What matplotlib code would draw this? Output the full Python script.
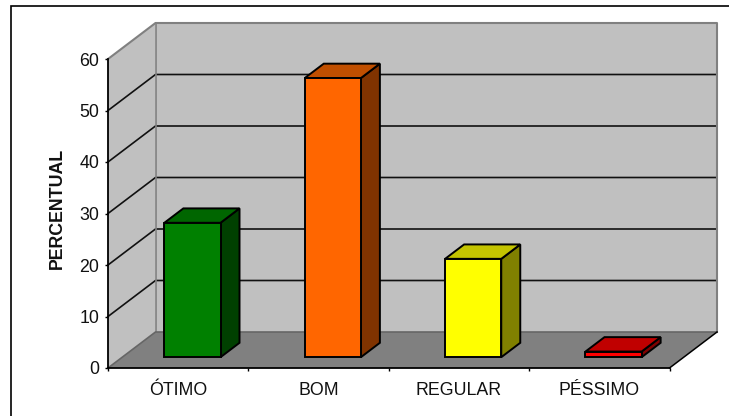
import matplotlib
matplotlib.use("Agg")
import matplotlib.pyplot as plt
from matplotlib.lines import Line2D
from matplotlib.patches import Polygon

categories = ["ÓTIMO", "BOM", "REGULAR", "PÉSSIMO"]
values = [26.1, 54.2, 19.1, 1.1]
front_colors = ["#008000", "#FF6600", "#FFFF00", "#FF0000"]
top_colors = ["#006600", "#C04F00", "#C4C400", "#C00000"]
side_colors = ["#004000", "#803300", "#808000", "#800000"]
y_ticks = [0, 10, 20, 30, 40, 50, 60]
y_label = "PERCENTUAL"

plt.rcParams["font.family"] = ["Liberation Sans", "DejaVu Sans"]
W, H = 729, 416
fig = plt.figure(figsize=(W / 100, H / 100), dpi=100, facecolor="white")
# the outer frame is cropped: only its top and left edges are in the picture
fig.add_artist(Line2D([11.5 / W, 11.5 / W, 1], [0, 1 - 5.5 / H, 1 - 5.5 / H],
                      transform=fig.transFigure, color="black", lw=1.2,
                      solid_joinstyle="miter"))

L, R, T, B = 108.0, 669.5, 59.0, 368.0
ax = fig.add_axes([L / W, 1 - B / H, (R - L) / W, (B - T) / H])
ax.set_xlim(0, len(categories))
ax.set_ylim(0, 60)
ax.patch.set_visible(False)

# depth of the 3D box in data units
DX, DY = 47.5 / ((R - L) / 4), 36.0 / ((B - T) / 60)
n = len(categories)
ymax = y_ticks[-1]

def poly(pts, fc, ec="none", lw=0, z=1):
    ax.add_patch(Polygon(pts, closed=True, fc=fc, ec=ec, lw=lw, zorder=z,
                         clip_on=False, joinstyle="miter"))

poly([(DX, DY), (n + DX, DY), (n + DX, ymax + DY), (DX, ymax + DY)], "#C0C0C0")
poly([(0, 0), (DX, DY), (DX, ymax + DY), (0, ymax)], "#C0C0C0")
poly([(0, 0), (n, 0), (n + DX, DY), (DX, DY)], "#808080")

for v in y_ticks[1:-1]:
    ax.plot([0, DX, n + DX], [v, v + DY, v + DY], color="#111111", lw=1.2,
            clip_on=False, zorder=2, solid_joinstyle="miter")
ax.plot([0, DX, n + DX, n + DX], [ymax, ymax + DY, ymax + DY, DY], color="#808080",
        lw=1.5, clip_on=False, zorder=2)
ax.plot([DX, DX], [DY, ymax + DY], color="#808080", lw=1.2, clip_on=False, zorder=2)
ax.plot([0, DX, n + DX], [0, DY, DY], color="#666666", lw=1.2, clip_on=False, zorder=2)
ax.plot([n, n + DX], [0, DY], color="black", lw=1.1, clip_on=False, zorder=2)

# bars: front face sits 0.3 of the way into the depth and takes 0.4 of it
bar_w = 0.4
for i, v in enumerate(values):
    x0 = i + 0.5 - bar_w / 2 + 0.3 * DX
    x1 = x0 + bar_w
    y0 = 0.3 * DY
    y1 = y0 + v
    ddx, ddy = 0.4 * DX, 0.4 * DY
    kw = dict(ec="black", lw=1.4, z=3 + i)
    poly([(x1, y0), (x1 + ddx, y0 + ddy), (x1 + ddx, y1 + ddy), (x1, y1)], side_colors[i], **kw)
    poly([(x0, y1), (x1, y1), (x1 + ddx, y1 + ddy), (x0 + ddx, y1 + ddy)], top_colors[i], **kw)
    poly([(x0, y0), (x1, y0), (x1, y1), (x0, y1)], front_colors[i], **kw)

for s in ["top", "right"]:
    ax.spines[s].set_visible(False)
for s in ["left", "bottom"]:
    ax.spines[s].set_linewidth(1.3)
    ax.spines[s].set_zorder(2.5)

ax.set_yticks(y_ticks)
ax.set_xticks(range(n + 1))
ax.set_xticklabels([""] * (n + 1))
ax.set_xticks([i + 0.5 for i in range(n)], labels=categories, minor=True)
ax.tick_params(axis="x", which="minor", length=0, pad=10.3, labelsize=12.75, labelcolor="#111111")
ax.tick_params(axis="x", which="major", length=2.4, width=1)
ax.tick_params(axis="y", length=2, width=1, pad=4.2, labelsize=12.75, labelcolor="#111111")
ax.set_ylabel(y_label, fontweight="bold", fontsize=12.75, color="#111111")
ax.yaxis.set_label_coords(-0.0755, 0.5155)

fig.savefig("out.png", dpi=100)
